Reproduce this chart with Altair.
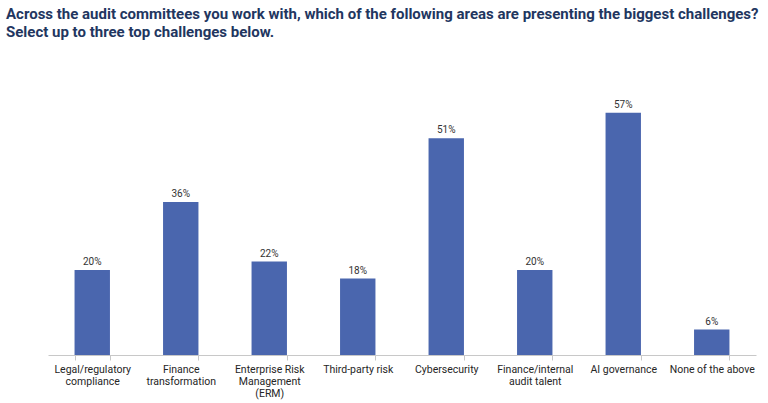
import altair as alt
import pandas as pd

# Survey categories (line breaks mark wrapped axis labels) and share of respondents
categories = [
    "Legal/regulatory\ncompliance",
    "Finance\ntransformation",
    "Enterprise Risk\nManagement\n(ERM)",
    "Third-party risk",
    "Cybersecurity",
    "Finance/internal\naudit talent",
    "AI governance",
    "None of the above",
]
shares = [20, 36, 22, 18, 51, 20, 57, 6]

df = pd.DataFrame({"area": categories, "pct": shares})
df["label"] = df["pct"].astype(str) + "%"

FONT = "Roboto"
BAR = "#4a66ae"

x_enc = alt.X(
    "area:N",
    sort=categories,
    scale=alt.Scale(paddingInner=0.6, paddingOuter=0.3),
    axis=alt.Axis(
        title=None,
        labelAngle=0,
        labelExpr="split(datum.label, '\\n')",
        labelFont=FONT,
        labelFontSize=10.5,
        labelColor="#262626",
        labelPadding=4,
        labelLineHeight=12,
        domainColor="#c8c8c8",
        tickColor="#c8c8c8",
        tickSize=5,
        tickBand="extent",
    ),
)
y_enc = alt.Y(
    "pct:Q",
    scale=alt.Scale(domain=[0, 60]),
    axis=None,
)

bars = alt.Chart(df).mark_bar(color=BAR).encode(x=x_enc, y=y_enc)
labels = alt.Chart(df).mark_text(
    dy=-8, font=FONT, fontSize=10, color="#333333"
).encode(x=x_enc, y=y_enc, text="label:N")

chart = (
    alt.layer(bars, labels)
    .properties(
        width=708,
        height=255,
        autosize=alt.AutoSizeParams(type="none"),
        padding={"left": 48, "top": 100, "right": 12, "bottom": 48},
        title=alt.TitleParams(
            text=[
                "Across the audit committees you work with, which of the following areas are presenting the biggest challenges?",
                "Select up to three top challenges below.",
            ],
            anchor="start",
            font=FONT,
            fontSize=15,
            fontWeight="bold",
            color="#22365f",
            lineHeight=18,
            dx=-42,
            offset=60,
        ),
    )
    .configure_view(stroke=None)
)

chart.save("out.html", embed_options={"renderer": "svg", "actions": False})
